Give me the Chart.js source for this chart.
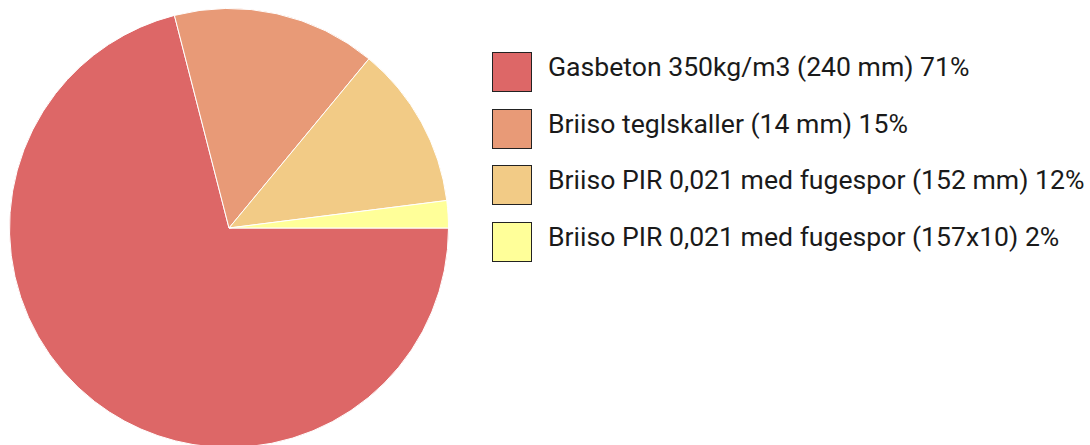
<!DOCTYPE html>
<html>
<head>
<meta charset="utf-8">
<script src="https://cdn.jsdelivr.net/npm/chart.js@4/dist/chart.umd.min.js"></script>
<style>
  html, body { margin: 0; padding: 0; width: 1090px; height: 445px; overflow: hidden; background: #fff; }
  #wrap { position: absolute; left: 0; top: 8px; width: 458px; height: 440px; }
  #legend { position: absolute; left: 492px; top: 52px; font-family: Roboto, sans-serif; font-size: 26.6px; color: #1a1a1a; }
  .item { position: absolute; left: 0; height: 40px; white-space: nowrap; }
  .box { position: absolute; left: 0; top: 0; width: 38px; height: 38px; border: 1px solid #222; }
  .txt { position: absolute; left: 56px; top: 0px; line-height: 30px; }
</style>
</head>
<body>
<div id="wrap"><canvas id="c"></canvas></div>
<div id="legend"></div>
<script>
const labels = [
  "Gasbeton 350kg/m3 (240 mm) 71%",
  "Briiso teglskaller (14 mm) 15%",
  "Briiso PIR 0,021 med fugespor (152 mm) 12%",
  "Briiso PIR 0,021 med fugespor (157x10) 2%"
];
const values = [71, 15, 12, 2];
const colors = ["#dd6767", "#e89a77", "#f2cb86", "#ffff99"];

new Chart(document.getElementById('c'), {
  type: 'pie',
  data: {
    labels: labels,
    datasets: [{
      data: values,
      backgroundColor: colors,
      borderColor: '#ffffff',
      borderWidth: 1
    }]
  },
  options: {
    responsive: true,
    maintainAspectRatio: false,
    animation: false,
    rotation: 90,
    layout: { padding: 0 },
    plugins: {
      legend: { display: false },
      tooltip: { enabled: false }
    }
  }
});

const leg = document.getElementById('legend');
labels.forEach((l, i) => {
  const it = document.createElement('div');
  it.className = 'item';
  it.style.top = (i * 56.5) + 'px';
  const b = document.createElement('div');
  b.className = 'box';
  b.style.background = colors[i];
  const t = document.createElement('div');
  t.className = 'txt';
  t.textContent = l;
  it.appendChild(b);
  it.appendChild(t);
  leg.appendChild(it);
});
</script>
</body>
</html>
